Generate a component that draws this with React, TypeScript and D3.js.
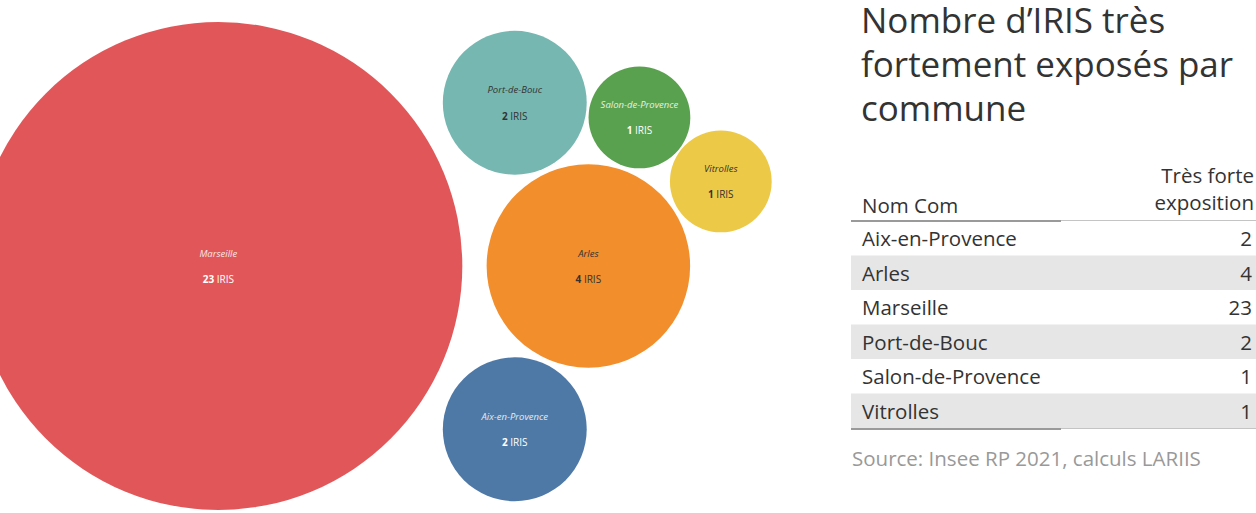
import React from "react";
import * as d3 from "d3";

const communes = ["Aix-en-Provence", "Arles", "Marseille", "Port-de-Bouc", "Salon-de-Provence", "Vitrolles"];
const irisCounts = [2, 4, 23, 2, 1, 1];
const bubbleColors = ["#4E79A7", "#F28E2B", "#E15759", "#76B7B2", "#59A14F", "#EDC948"];
const labelColors = ["#ffffff", "#333333", "#ffffff", "#333333", "#ffffff", "#333333"];
// packing: each bubble rests against two already placed bubbles (side: 1 = clockwise, -1 = counter-clockwise)
const packRest: [string, string, string, number][] = [
  ["Aix-en-Provence", "Marseille", "Arles", 1],
  ["Port-de-Bouc", "Marseille", "Arles", -1],
  ["Salon-de-Provence", "Port-de-Bouc", "Arles", -1],
  ["Vitrolles", "Salon-de-Provence", "Arles", -1],
];
const titleLines = ["Nombre d’IRIS très", "fortement exposés par", "commune"];
const headerCol1 = "Nom Com";
const headerCol2 = ["Très forte", "exposition"];
const unitLabel = "IRIS";
const sourceText = "Source: Insee RP 2021, calculs LARIIS";

const W = 1256;
const H = 513;
const FONT = "'Open Sans', 'Noto Sans', sans-serif";

type Bubble = { name: string; value: number; color: string; label: string; r: number; pr: number; x: number; y: number };

function placeTangent(a: Bubble, b: Bubble, c: Bubble, side: number) {
  const dx = b.x - a.x;
  const dy = b.y - a.y;
  const d = Math.hypot(dx, dy);
  const ra = a.pr + c.pr;
  const rb = b.pr + c.pr;
  const along = (d * d + ra * ra - rb * rb) / (2 * d);
  const h = Math.sqrt(Math.max(0, ra * ra - along * along));
  const ux = dx / d;
  const uy = dy / d;
  const nx = -uy;
  const ny = ux;
  c.x = a.x + along * ux + side * h * nx;
  c.y = a.y + along * uy + side * h * ny;
}

export default function App() {
  const rScale = d3.scaleSqrt().domain([0, 23]).range([0, 244]);

  const bubbles: Bubble[] = communes.map((name, i) => ({
    name,
    value: irisCounts[i],
    color: bubbleColors[i],
    label: labelColors[i],
    r: rScale(irisCounts[i]),
    pr: rScale(irisCounts[i]) + 0.9 * irisCounts[i],
    x: 0,
    y: 0,
  }));
  const byName = new Map(bubbles.map((b) => [b.name, b]));

  const ordered = [...bubbles].sort((a, b) => b.value - a.value);
  const first = ordered[0];
  const second = ordered[1];
  first.x = 0;
  first.y = 0;
  second.x = first.pr + second.pr;
  second.y = 0;
  packRest.forEach(([n, a, b, side]) => placeTangent(byName.get(a)!, byName.get(b)!, byName.get(n)!, side));

  const x0 = d3.min(bubbles, (b) => b.x - b.r)!;
  const x1 = d3.max(bubbles, (b) => b.x + b.r)!;
  const y0 = d3.min(bubbles, (b) => b.y - b.r)!;
  const y1 = d3.max(bubbles, (b) => b.y + b.r)!;
  const vizCx = 373;
  const vizCy = 266;
  const tx = vizCx - (x0 + x1) / 2;
  const ty = vizCy - (y0 + y1) / 2;

  const tableLeft = 851;
  const tableRight = 1256;
  const rowY = d3.scaleBand<string>().domain(communes).range([221, 221 + communes.length * 34.5]);
  const dividerX = 1061;
  const tableBottom = rowY.range()[1];

  return (
    <svg width={W} height={H} style={{ position: "absolute", left: 0, top: 0, background: "#fff" }} fontFamily={FONT}>
      <defs>
        <clipPath id="vizClip">
          <rect x={0} y={0} width={820} height={H} />
        </clipPath>
      </defs>
      <g clipPath="url(#vizClip)">
        <g transform={`translate(${tx},${ty})`}>
          {bubbles.map((b) => (
            <g key={b.name}>
              <circle cx={b.x} cy={b.y} r={b.r} fill={b.color} />
              <text
                x={b.x}
                y={b.y - 12}
                textAnchor="middle"
                dominantBaseline="middle"
                fontSize={9.5}
                fontStyle="italic"
                fill={b.label}
                opacity={b.label === "#ffffff" ? 0.85 : 1}
              >
                {b.name}
              </text>
              <text x={b.x} y={b.y + 14} textAnchor="middle" dominantBaseline="middle" fontSize={10} fill={b.label}>
                <tspan fontWeight="bold">{b.value}</tspan>
                <tspan> {unitLabel}</tspan>
              </text>
            </g>
          ))}
        </g>
      </g>

      {titleLines.map((t, i) => (
        <text key={t} x={861} y={33 + i * 44} fontSize={35} fill="#333333">
          {t}
        </text>
      ))}

      <text x={1254} y={183} textAnchor="end" fontSize={20.5} fill="#333333">
        {headerCol2[0]}
      </text>
      <text x={1254} y={210} textAnchor="end" fontSize={20.5} fill="#333333">
        {headerCol2[1]}
      </text>
      <text x={862} y={213} fontSize={20.5} fill="#333333">
        {headerCol1}
      </text>

      {communes.map((c, i) => {
        const y = rowY(c)!;
        const h = rowY.bandwidth();
        return (
          <g key={c}>
            {i % 2 === 1 && <rect x={tableLeft} y={y} width={tableRight - tableLeft} height={h} fill="#e6e6e6" />}
            <text x={862} y={y + h / 2} dominantBaseline="central" fontSize={20.5} fill="#333333">
              {c}
            </text>
            <text x={1252} y={y + h / 2} dominantBaseline="central" textAnchor="end" fontSize={20.5} fill="#333333">
              {irisCounts[i]}
            </text>
          </g>
        );
      })}
      <line x1={tableLeft} x2={dividerX} y1={221} y2={221} stroke="#9a9a9a" strokeWidth={2} />
      <line x1={dividerX} x2={tableRight} y1={220.5} y2={220.5} stroke="#c4c4c4" strokeWidth={1} />
      <line x1={tableLeft} x2={dividerX} y1={tableBottom + 1} y2={tableBottom + 1} stroke="#9a9a9a" strokeWidth={2} />
      <line x1={dividerX} x2={tableRight} y1={tableBottom + 0.5} y2={tableBottom + 0.5} stroke="#c4c4c4" strokeWidth={1} />

      <text x={852} y={466} fontSize={20.5} fill="#999999">
        {sourceText}
      </text>
    </svg>
  );
}
